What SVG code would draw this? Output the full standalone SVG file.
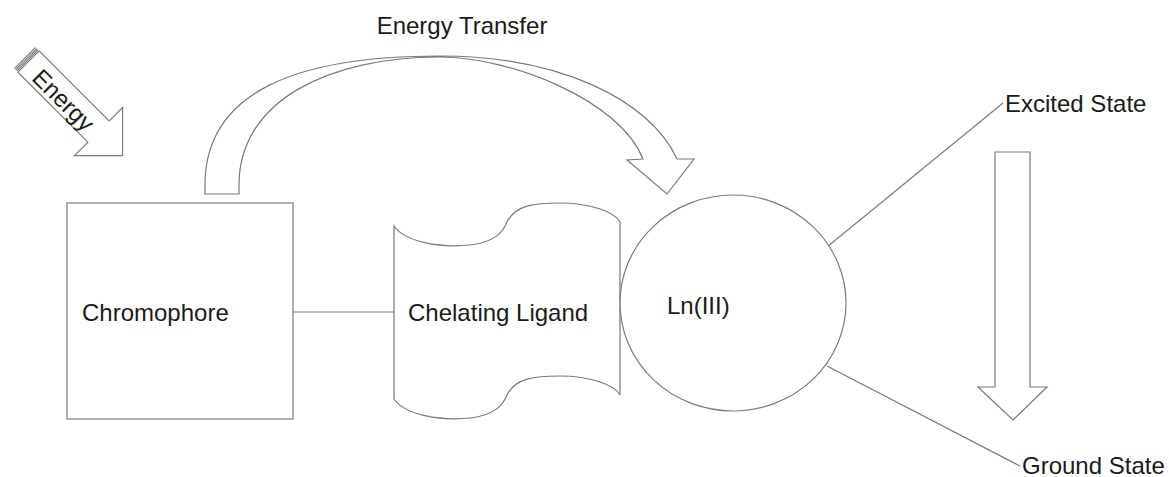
<svg xmlns="http://www.w3.org/2000/svg" width="1169" height="477" viewBox="0 0 1169 477">
<style>
.s{fill:#fff;stroke:#7a7a7a;stroke-width:1.2}
.l{fill:none;stroke:#7a7a7a;stroke-width:1.2}
.t{font-family:"Liberation Sans",Arial,sans-serif;font-size:24px;fill:#1a1a1a}
</style>
<rect width="1169" height="477" fill="#fff"/>
<g id="connectors">
<line class="l" x1="293" y1="312" x2="395" y2="312"/>
<line class="l" x1="827" y1="247" x2="1003" y2="103"/>
<line class="l" x1="827" y1="366" x2="1020" y2="466"/>
</g>
<g id="energy-arrow" transform="translate(25,58) rotate(45)">
<path class="s" d="M5,-15 L104,-15 L104,-34 L138,0 L104,34 L104,15 L5,15 Z"/>
<line class="l" x1="0" y1="-15" x2="0" y2="15"/>
<line class="l" x1="1.7" y1="-15" x2="1.7" y2="15"/>
<line class="l" x1="3.4" y1="-15" x2="3.4" y2="15"/>
<text class="t" x="57" y="11" text-anchor="middle">Energy</text>
</g>
<g id="energy-transfer">
<path class="s" d="M205,194 L205,185 C205,90 300,56 440,56 C560,56 650,100 677,159 L694,159 L667,194 L627,160 L643,159 C620,100 510,57 440,57 C330,57 239,100 239,185 L239,194 Z"/>
<text class="t" x="462" y="34" text-anchor="middle">Energy Transfer</text>
</g>
<g id="chromophore">
<rect class="s" x="67" y="203" width="226" height="216"/>
<text class="t" x="82" y="321">Chromophore</text>
</g>
<g id="chelating-ligand">
<path class="s" d="M394,226 C405,242 440,248 470,245 C495,242 503,232 507,222 C515,205 535,203 560,203 C590,203 615,212 620,222 L620,395 C615,385 590,376 560,376 C535,376 515,378 507,395 C503,405 495,415 470,418 C440,421 405,415 394,399 Z"/>
<text class="t" x="408" y="321">Chelating Ligand</text>
</g>
<g id="ln">
<ellipse class="s" cx="733" cy="303" rx="113" ry="108"/>
<text class="t" x="667" y="314">Ln(III)</text>
</g>
<g id="excited-state">
<text class="t" x="1005" y="112">Excited State</text>
</g>
<g id="down-arrow">
<path class="s" d="M995,152 L1030,152 L1030,387 L1047,387 L1013,420 L978,387 L995,387 Z"/>
</g>
<g id="ground-state">
<text class="t" x="1022" y="474">Ground State</text>
</g>
</svg>
